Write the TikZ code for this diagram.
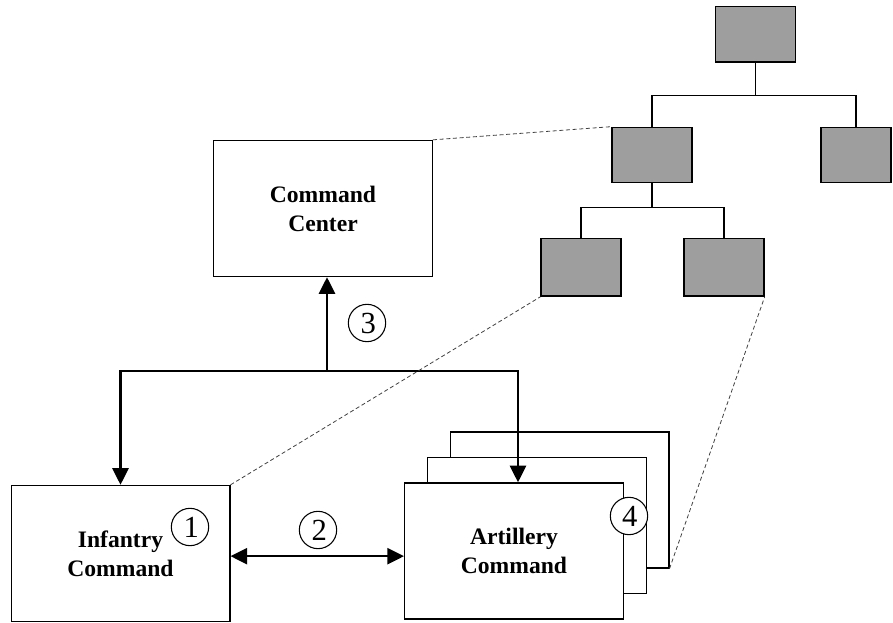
\documentclass[tikz,border=0pt]{standalone}
\usepackage{fontspec}
\setmainfont{Liberation Serif}
\usepackage{tikz}
\usetikzlibrary{arrows.meta}
\usetikzlibrary{calc}

\tikzset{
  cmdbox/.style={draw,line width=1pt,fill=white,minimum width=164pt,minimum height=102pt,
    align=center,font=\fontsize{17.7}{21.7}\selectfont\bfseries},
  unitbox/.style={draw,line width=1pt,fill=black!38,minimum width=60pt,minimum height=41.5pt},
  numcirc/.style={draw,circle,line width=0.8pt,minimum size=28pt,inner sep=0pt,
    font=\fontsize{23}{23}\selectfont},
  flow/.style={line width=1.9pt,-{Triangle[length=12.5pt,width=12pt]}},
  zoomline/.style={line width=0.6pt,dash pattern=on 3pt off 2pt,black!75},
}

\begin{document}
\begin{tikzpicture}[x=0.75pt,y=-0.75pt]
            \useasboundingbox (0,0) rectangle (893,623);

            % org tree on the right
            \node[unitbox] (top) at (755.5,34.5) {};
            \node[unitbox] (midl) at (652,155) {};
            \node[unitbox,minimum width=52.5pt] (midr) at (856,155) {};
            \node[unitbox,minimum height=43pt] (lowl) at (581,267.5) {};
            \node[unitbox,minimum height=43pt] (lowr) at (724,267.5) {};
            \draw[line width=1pt] (top.south) -- ++(0,33) coordinate (t1);
            \draw[line width=1pt] (midl.north) |- (t1) -| (midr.north);
            \draw[line width=1pt] (midl.south) -- ++(0,24) coordinate (t2);
            \draw[line width=1pt] (lowl.north) |- (t2) -| (lowr.north);

            % command boxes
            \node[cmdbox] (cc) at (323,208.5) {Command\\Center};
            \node[cmdbox] (inf) at (120.5,553.5) {Infantry\\Command};
            \node[cmdbox] (artb) at (559.5,500) {};
            \node[cmdbox] (artm) at (537,525.5) {};
            \node[cmdbox] (art) at (514,551) {Artillery\\Command};

            % links
            \coordinate (bus) at (327,371);
            \draw[flow] (bus) -- (bus |- cc.south);
            \draw[flow] (bus) -| (inf.north);
            \draw[flow] (bus) -| ([xshift=3pt]art.north);
            \draw[flow,{Triangle[length=12.5pt,width=12pt]}-{Triangle[length=12.5pt,width=12pt]}] ([yshift=-2pt]inf.east) -- ([yshift=-2pt]inf.east -| art.west);

            \draw[zoomline] (cc.north east) -- (midl.north west);
            \draw[zoomline] (inf.north east) -- (lowl.south west);
            \draw[zoomline] (artb.south east) -- (lowr.south east);

            % numbers
            \node[numcirc] (n1) at (190,527) {\hspace{2pt}1};
            \node[numcirc] (n2) at (318,530) {\hspace{2pt}2};
            \node[numcirc] (n3) at (367,323) {\hspace{2pt}3};
            \node[numcirc,fill=white] (n4) at (629,516) {\hspace{1pt}4};
        \end{tikzpicture}
\end{document}
